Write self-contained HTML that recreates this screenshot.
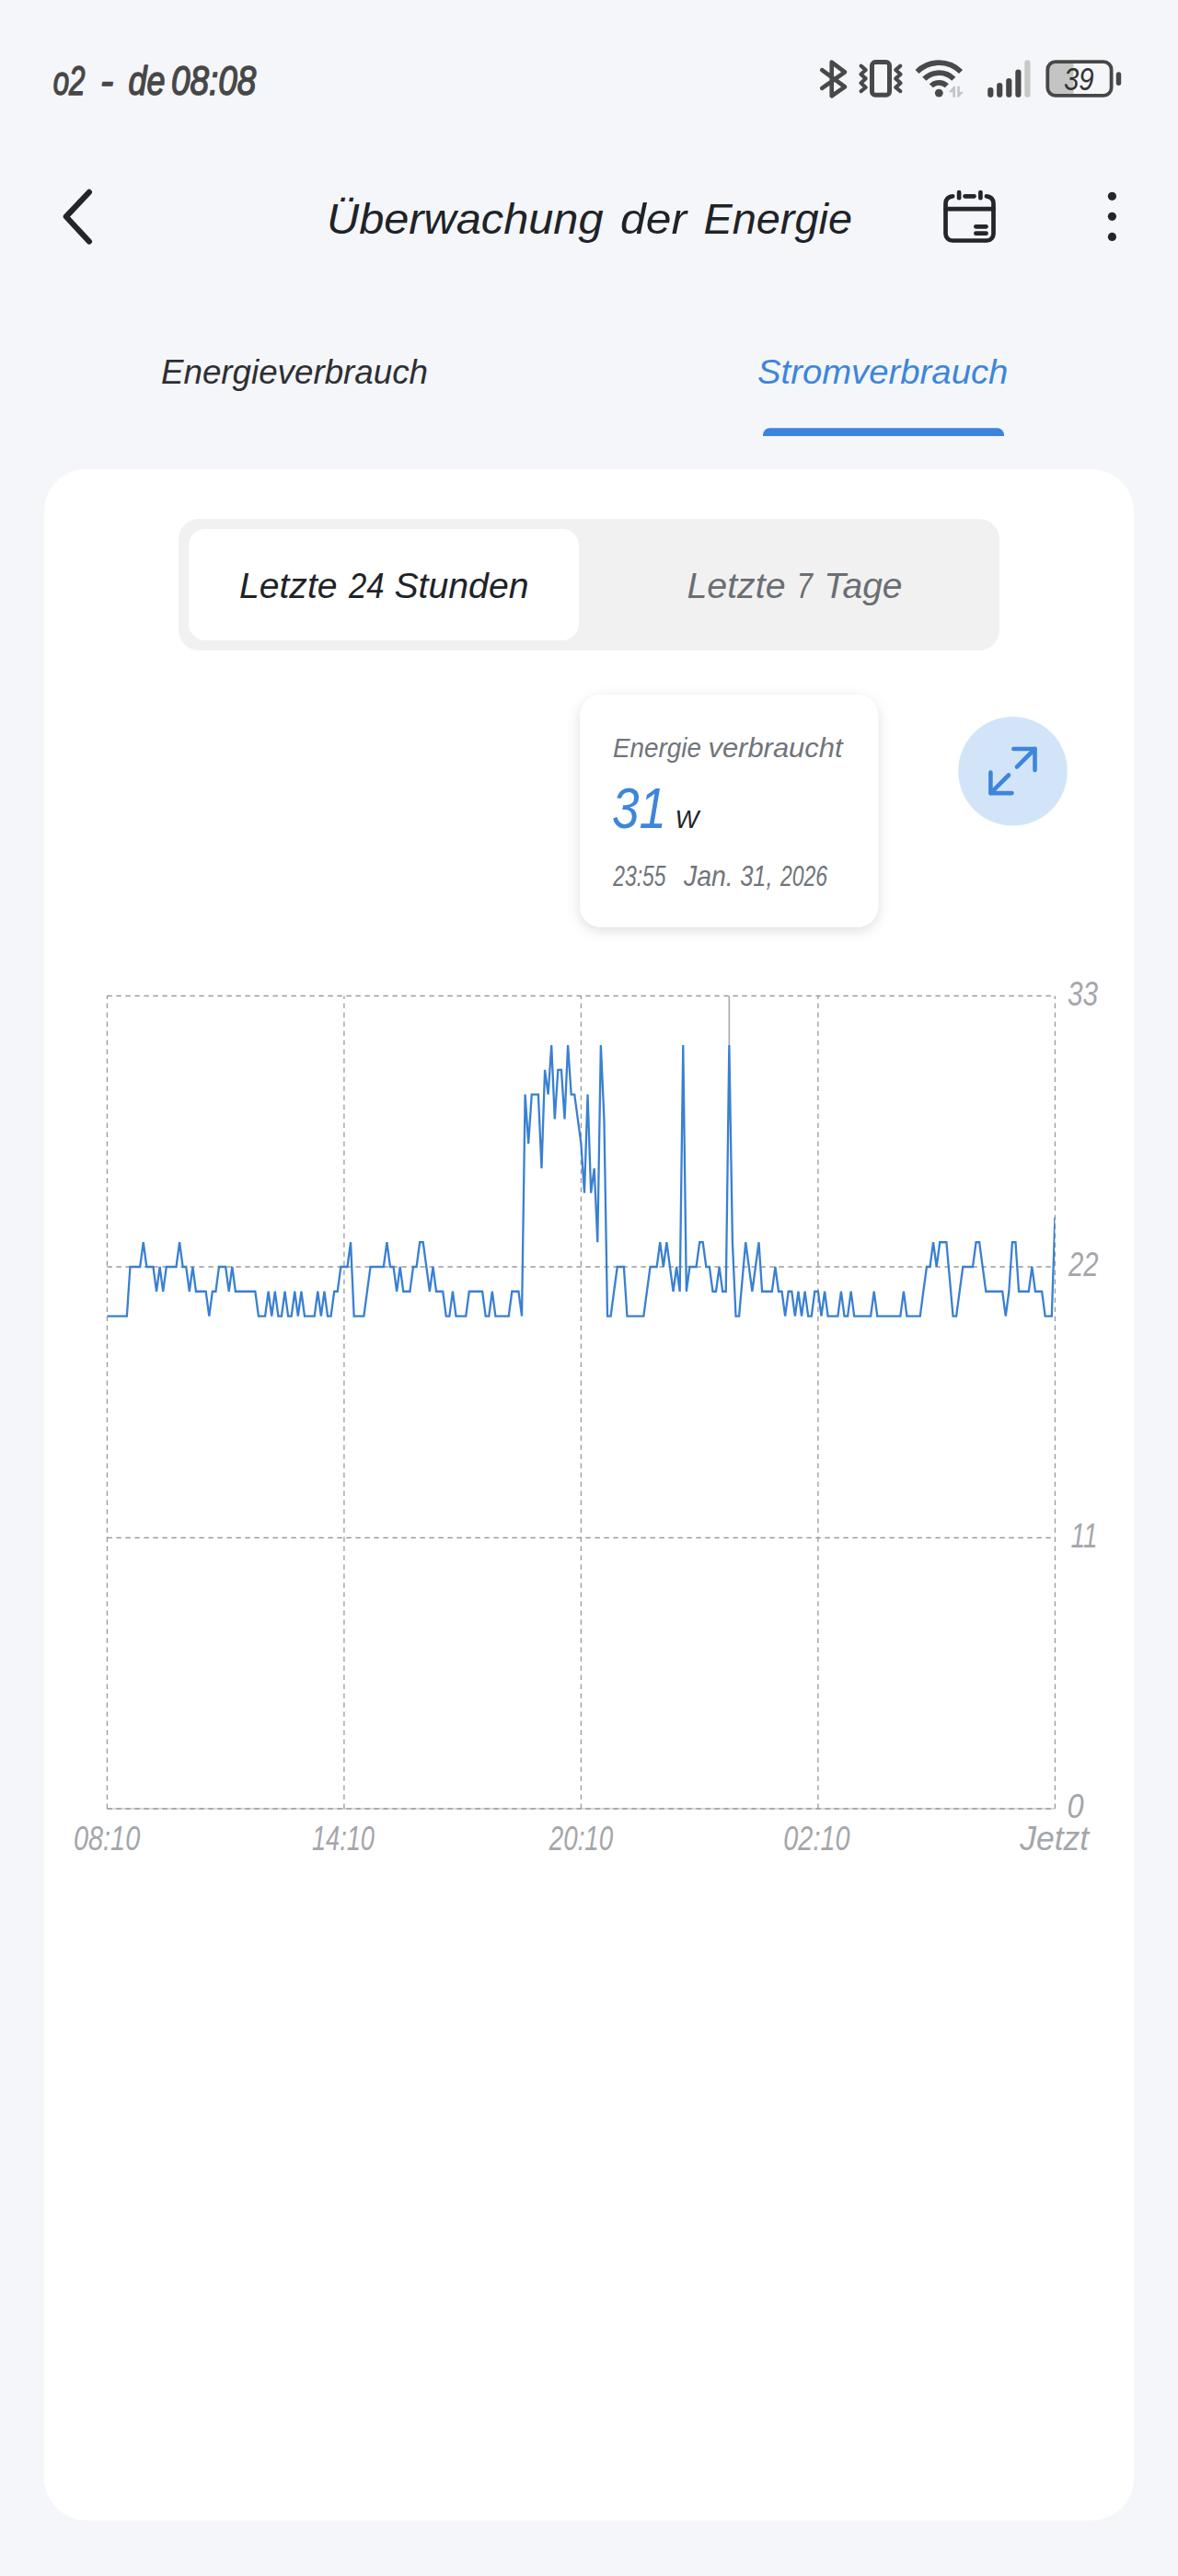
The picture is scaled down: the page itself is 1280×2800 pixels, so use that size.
<!DOCTYPE html>
<html lang="de"><head><meta charset="utf-8"><title>Überwachung der Energie</title>
<style>
html,body{margin:0;padding:0;background:#f5f6fa;}
body{width:1280px;height:2800px;overflow:hidden;}
svg{display:block;}
text{font-family:"Liberation Sans",Arial,sans-serif;font-style:italic;}
</style></head>
<body>
<svg width="1280" height="2800" viewBox="0 0 1280 2800">
<defs>
<clipPath id="plotclip"><rect x="116.4" y="1000" width="1030" height="1000"/></clipPath>
<filter id="sh" x="-20%" y="-20%" width="140%" height="150%">
<feDropShadow dx="0" dy="4" stdDeviation="7" flood-color="#000000" flood-opacity="0.13"/>
</filter>
</defs>

<rect x="0" y="0" width="1280" height="2800" fill="#f5f6fa"/>
<rect x="48" y="510" width="1184" height="2229.5" rx="46" fill="#ffffff"/>
<rect x="194" y="564" width="892" height="143" rx="22" fill="#f1f1f1"/>
<rect x="205" y="575" width="424" height="121" rx="18" fill="#ffffff"/>
<path d="M829,474 V472.7 a7.5,7.5 0 0 1 7.5,-7.5 H1083.5 a7.5,7.5 0 0 1 7.5,7.5 V474 Z" fill="#3a85db"/>

<g fill="none" stroke="#48494a" stroke-width="4.6" stroke-linecap="round" stroke-linejoin="round">
  <!-- bluetooth -->
  <path d="M893.2,76.2 L918,94.4 L903.7,104.3 L903.7,67.6 L918,78.3 L893.2,95.8"/>
  <!-- vibrate -->
  <rect x="947.5" y="67.6" width="19" height="35.7" rx="3.6" stroke-width="5"/>
  <path d="M935.6,71.6 L940.7,76 L935.4,80.7 L940.7,85.4 L935.4,90.2 L940.7,95 L935.6,99.1" stroke-width="4.1"/>
  <path d="M978.3,71.6 L973.2,76 L978.6,80.7 L973.2,85.4 L978.6,90.2 L973.2,95 L978.3,99.1" stroke-width="4.1"/>
</g>
<g fill="none" stroke="#48494a" stroke-width="5.8" stroke-linecap="butt">
  <!-- wifi arcs -->
  <path d="M996.54,78.04 A33.6,33.6 0 0 1 1044.06,78.04"/>
  <path d="M1004.32,85.82 A22.6,22.6 0 0 1 1036.28,85.82"/>
  <path d="M1011.81,93.31 A12,12 0 0 1 1028.79,93.31"/>
</g>
<circle cx="1020.3" cy="101.1" r="4.45" fill="#48494a"/>
<g fill="#c4c4c6">
  <path d="M1031,100.2 L1036.2,93.8 L1038,93.8 L1038,105.8 L1035.4,105.8 L1035.4,100.2 Z"/>
  <path d="M1040.2,93.8 L1042.8,93.8 L1042.8,100 L1046.8,100 L1041.6,105.8 L1040.2,105.8 Z"/>
</g>
<!-- signal -->
<g stroke-linecap="round" stroke-width="6.2">
  <line x1="1076.3" y1="98" x2="1076.3" y2="102.7" stroke="#474747"/>
  <line x1="1086.2" y1="93" x2="1086.2" y2="102.7" stroke="#474747"/>
  <line x1="1096.3" y1="88" x2="1096.3" y2="102.7" stroke="#474747"/>
  <line x1="1106.4" y1="78.7" x2="1106.4" y2="102.7" stroke="#474747"/>
  <line x1="1116.4" y1="68.4" x2="1116.4" y2="102.7" stroke="#c8c8c8"/>
</g>
<!-- battery -->
<path d="M1142,69 h24.5 v33 h-24.5 a4.5,4.5 0 0 1 -4.5 -4.5 v-24 a4.5,4.5 0 0 1 4.5 -4.5 z" fill="#c4c4c4"/>
<rect x="1138.3" y="67.2" width="69.3" height="36.7" rx="8.5" fill="none" stroke="#474747" stroke-width="3.8"/>
<rect x="1212.8" y="78.3" width="5.4" height="14.6" rx="2.7" fill="#474747"/>

<path d="M96.9,208.9 L71.8,235.5 L96.9,262.5" fill="none" stroke="#22262a" stroke-width="6.2" stroke-linecap="round" stroke-linejoin="round"/>
<g fill="none" stroke="#22262a" stroke-width="4.7" stroke-linecap="round">
  <path d="M1035.2,213.3 H1035 a7.5,7.5 0 0 0 -7.5,7.5 V254 a7.5,7.5 0 0 0 7.5,7.5 H1072 a7.5,7.5 0 0 0 7.5,-7.5 V220.8 a7.5,7.5 0 0 0 -7.5,-7.5 H1071.9"/>
  <line x1="1048.6" y1="213.3" x2="1058.5" y2="213.3"/>
  <line x1="1042.1" y1="209.1" x2="1042.1" y2="215.2"/>
  <line x1="1065.4" y1="209.1" x2="1065.4" y2="215.2"/>
  <line x1="1027.6" y1="227.1" x2="1079.4" y2="227.1"/>
  <line x1="1060.4" y1="246.3" x2="1071.5" y2="246.3"/>
  <line x1="1060.4" y1="253.7" x2="1071.5" y2="253.7"/>
</g>
<g fill="#22262a">
  <circle cx="1208.4" cy="213.3" r="4.6"/>
  <circle cx="1208.4" cy="235.3" r="4.6"/>
  <circle cx="1208.4" cy="257.4" r="4.6"/>
</g>

<line x1="116.40" y1="1966.00" x2="1146.40" y2="1966.00" stroke="#cfcfcf" stroke-width="1.6"/>
<g stroke="#9a9a9a" stroke-width="1.3" stroke-dasharray="5.4 4.6" fill="none">
<line x1="116.40" y1="1966.00" x2="116.40" y2="1082.50"/>
<line x1="373.90" y1="1966.00" x2="373.90" y2="1082.50"/>
<line x1="631.40" y1="1966.00" x2="631.40" y2="1082.50"/>
<line x1="888.90" y1="1966.00" x2="888.90" y2="1082.50"/>
<line x1="1146.40" y1="1966.00" x2="1146.40" y2="1082.50"/>
<line x1="116.40" y1="1082.50" x2="1146.40" y2="1082.50"/>
<line x1="116.40" y1="1377.00" x2="1146.40" y2="1377.00"/>
<line x1="116.40" y1="1671.50" x2="1146.40" y2="1671.50"/>
<line x1="116.40" y1="1966.00" x2="1146.40" y2="1966.00"/>
</g>
<line x1="792.34" y1="1082.50" x2="792.34" y2="1136.05" stroke="#a8a8a8" stroke-width="1.6"/>
<polyline clip-path="url(#plotclip)" points="116.40,1430.55 119.98,1430.55 123.55,1430.55 127.13,1430.55 130.71,1430.55 134.28,1430.55 137.86,1430.55 141.43,1377.00 145.01,1377.00 148.59,1377.00 152.16,1377.00 155.74,1350.23 159.32,1377.00 162.89,1377.00 166.47,1377.00 170.05,1403.77 173.62,1377.00 177.20,1403.77 180.78,1377.00 184.35,1377.00 187.93,1377.00 191.50,1377.00 195.08,1350.23 198.66,1377.00 202.23,1377.00 205.81,1403.77 209.39,1377.00 212.96,1403.77 216.54,1403.77 220.12,1403.77 223.69,1403.77 227.27,1430.55 230.84,1403.77 234.42,1403.77 238.00,1377.00 241.57,1377.00 245.15,1377.00 248.73,1403.77 252.30,1377.00 255.88,1403.77 259.46,1403.77 263.03,1403.77 266.61,1403.77 270.18,1403.77 273.76,1403.77 277.34,1403.77 280.91,1430.55 284.49,1430.55 288.07,1430.55 291.64,1403.77 295.22,1430.55 298.80,1403.77 302.37,1430.55 305.95,1430.55 309.52,1403.77 313.10,1430.55 316.68,1430.55 320.25,1403.77 323.83,1430.55 327.41,1403.77 330.98,1430.55 334.56,1430.55 338.14,1430.55 341.71,1430.55 345.29,1403.77 348.87,1430.55 352.44,1403.77 356.02,1430.55 359.59,1430.55 363.17,1403.77 366.75,1403.77 370.32,1377.00 373.90,1377.00 377.48,1377.00 381.05,1350.23 384.63,1430.55 388.21,1430.55 391.78,1430.55 395.36,1430.55 398.93,1403.77 402.51,1377.00 406.09,1377.00 409.66,1377.00 413.24,1377.00 416.82,1377.00 420.39,1350.23 423.97,1377.00 427.55,1377.00 431.12,1403.77 434.70,1377.00 438.27,1403.77 441.85,1403.77 445.43,1403.77 449.00,1377.00 452.58,1377.00 456.16,1350.23 459.73,1350.23 463.31,1377.00 466.89,1403.77 470.46,1377.00 474.04,1403.77 477.62,1403.77 481.19,1403.77 484.77,1430.55 488.34,1430.55 491.92,1403.77 495.50,1430.55 499.07,1430.55 502.65,1430.55 506.23,1430.55 509.80,1403.77 513.38,1403.77 516.96,1403.77 520.53,1403.77 524.11,1403.77 527.68,1430.55 531.26,1430.55 534.84,1403.77 538.41,1430.55 541.99,1430.55 545.57,1430.55 549.14,1430.55 552.72,1430.55 556.30,1403.77 559.87,1403.77 563.45,1403.77 567.02,1430.55 570.60,1189.59 574.18,1243.14 577.75,1189.59 581.33,1189.59 584.91,1189.59 588.48,1269.91 592.06,1162.82 595.64,1189.59 599.21,1136.05 602.79,1216.36 606.37,1162.82 609.94,1162.82 613.52,1216.36 617.09,1136.05 620.67,1189.59 624.25,1189.59 627.82,1216.36 631.40,1243.14 634.98,1296.68 638.55,1189.59 642.13,1296.68 645.71,1269.91 649.28,1350.23 652.86,1136.05 656.43,1216.36 660.01,1430.55 663.59,1430.55 667.16,1403.77 670.74,1377.00 674.32,1377.00 677.89,1377.00 681.47,1430.55 685.05,1430.55 688.62,1430.55 692.20,1430.55 695.77,1430.55 699.35,1430.55 702.93,1403.77 706.50,1377.00 710.08,1377.00 713.66,1377.00 717.23,1350.23 720.81,1377.00 724.39,1350.23 727.96,1377.00 731.54,1403.77 735.12,1377.00 738.69,1403.77 742.27,1136.05 745.84,1403.77 749.42,1377.00 753.00,1377.00 756.57,1377.00 760.15,1350.23 763.73,1350.23 767.30,1377.00 770.88,1377.00 774.46,1403.77 778.03,1403.77 781.61,1377.00 785.18,1403.77 788.76,1403.77 792.34,1136.05 795.91,1350.23 799.49,1430.55 803.07,1430.55 806.64,1390.39 810.22,1350.23 813.80,1377.00 817.37,1403.77 820.95,1377.00 824.52,1350.23 828.10,1403.77 831.68,1403.77 835.25,1403.77 838.83,1403.77 842.41,1377.00 845.98,1403.77 849.56,1403.77 853.14,1430.55 856.71,1403.77 860.29,1403.77 863.87,1430.55 867.44,1403.77 871.02,1430.55 874.59,1403.77 878.17,1430.55 881.75,1430.55 885.32,1403.77 888.90,1403.77 892.48,1430.55 896.05,1403.77 899.63,1430.55 903.21,1430.55 906.78,1430.55 910.36,1430.55 913.93,1403.77 917.51,1430.55 921.09,1430.55 924.66,1403.77 928.24,1430.55 931.82,1430.55 935.39,1430.55 938.97,1430.55 942.55,1430.55 946.12,1430.55 949.70,1403.77 953.27,1430.55 956.85,1430.55 960.43,1430.55 964.00,1430.55 967.58,1430.55 971.16,1430.55 974.73,1430.55 978.31,1430.55 981.89,1403.77 985.46,1430.55 989.04,1430.55 992.62,1430.55 996.19,1430.55 999.77,1430.55 1003.34,1403.77 1006.92,1377.00 1010.50,1377.00 1014.07,1350.23 1017.65,1377.00 1021.23,1350.23 1024.80,1350.23 1028.38,1350.23 1031.96,1390.39 1035.53,1430.55 1039.11,1430.55 1042.68,1403.77 1046.26,1377.00 1049.84,1377.00 1053.41,1377.00 1056.99,1377.00 1060.57,1350.23 1064.14,1350.23 1067.72,1377.00 1071.30,1403.77 1074.87,1403.77 1078.45,1403.77 1082.03,1403.77 1085.60,1403.77 1089.18,1403.77 1092.75,1430.55 1096.33,1403.77 1099.91,1350.23 1103.48,1350.23 1107.06,1403.77 1110.64,1403.77 1114.21,1403.77 1117.79,1403.77 1121.37,1377.00 1124.94,1403.77 1128.52,1403.77 1132.09,1403.77 1135.67,1430.55 1139.25,1430.55 1142.82,1430.55 1146.40,1323.45" fill="none" stroke="#3a80d2" stroke-width="2.3" stroke-linejoin="miter" stroke-miterlimit="4"/>

<rect x="630.1" y="755" width="324.1" height="252.8" rx="23" fill="#ffffff" filter="url(#sh)"/>

<circle cx="1100.5" cy="838.3" r="59.3" fill="#d2e5f8"/>
<g fill="none" stroke="#3d86da" stroke-width="4.6" stroke-linecap="round" stroke-linejoin="round">
  <path d="M1101.3,814 H1124.5 V837.1"/>
  <path d="M1124.5,814 L1104.9,833.6"/>
  <path d="M1099.5,862.1 H1076.4 V839.5"/>
  <path d="M1076.4,862.1 L1096,842.5"/>
</g>
<text id="status1" x="57.67" y="102.80" font-size="45" textLength="34.86" lengthAdjust="spacingAndGlyphs" fill="#474747" font-weight="normal" stroke="#474747" stroke-width="1.5" stroke-linejoin="round">o2</text>
<text id="status1b" x="108.90" y="102.80" font-size="45" textLength="14.26" lengthAdjust="spacingAndGlyphs" fill="#474747" font-weight="normal" stroke="#474747" stroke-width="1.5" stroke-linejoin="round">-</text>
<text id="status1c" x="139.53" y="102.80" font-size="45" textLength="39.89" lengthAdjust="spacingAndGlyphs" fill="#474747" font-weight="normal" stroke="#474747" stroke-width="1.5" stroke-linejoin="round">de</text>
<text id="status2" x="185.96" y="102.80" font-size="45" textLength="92.25" lengthAdjust="spacingAndGlyphs" fill="#474747" font-weight="normal" stroke="#474747" stroke-width="1.5" stroke-linejoin="round">08:08</text>
<text id="title" x="354.96" y="253.90" font-size="47" textLength="300.54" lengthAdjust="spacingAndGlyphs" fill="#1e2328" font-weight="normal">Überwachung</text>
<text id="title2" x="673.98" y="253.90" font-size="47" textLength="72.02" lengthAdjust="spacingAndGlyphs" fill="#1e2328" font-weight="normal">der</text>
<text id="title3" x="764.48" y="253.90" font-size="47" textLength="161.54" lengthAdjust="spacingAndGlyphs" fill="#1e2328" font-weight="normal">Energie</text>
<text id="tab1" x="174.99" y="416.70" font-size="36" textLength="290.01" lengthAdjust="spacingAndGlyphs" fill="#2d2f31" font-weight="normal">Energieverbrauch</text>
<text id="tab2" x="822.96" y="417.00" font-size="36" textLength="272.43" lengthAdjust="spacingAndGlyphs" fill="#3d86da" font-weight="normal">Stromverbrauch</text>
<text id="seg1" x="259.98" y="649.80" font-size="38" textLength="106.55" lengthAdjust="spacingAndGlyphs" fill="#1e2328" font-weight="normal">Letzte</text>
<text id="seg1b" x="379.00" y="649.80" font-size="38" textLength="38.52" lengthAdjust="spacingAndGlyphs" fill="#1e2328" font-weight="normal">24</text>
<text id="seg1c" x="428.47" y="649.80" font-size="38" textLength="146.02" lengthAdjust="spacingAndGlyphs" fill="#1e2328" font-weight="normal">Stunden</text>
<text id="seg2" x="746.47" y="650.40" font-size="38" textLength="107.08" lengthAdjust="spacingAndGlyphs" fill="#6a6e72" font-weight="normal">Letzte</text>
<text id="seg2b" x="865.74" y="650.40" font-size="38" textLength="17.18" lengthAdjust="spacingAndGlyphs" fill="#6a6e72" font-weight="normal">7</text>
<text id="seg2c" x="895.29" y="650.40" font-size="38" textLength="85.27" lengthAdjust="spacingAndGlyphs" fill="#6a6e72" font-weight="normal">Tage</text>
<text id="tt1" x="665.99" y="823.10" font-size="30" textLength="96.05" lengthAdjust="spacingAndGlyphs" fill="#70757a" font-weight="normal">Energie</text>
<text id="tt1b" x="769.48" y="823.10" font-size="30" textLength="146.02" lengthAdjust="spacingAndGlyphs" fill="#70757a" font-weight="normal">verbraucht</text>
<text id="tt2" x="665.09" y="900.20" font-size="63" textLength="59.01" lengthAdjust="spacingAndGlyphs" fill="#3d86da" font-weight="normal">31</text>
<text id="tt3" x="733.60" y="900.20" font-size="28" textLength="25.80" lengthAdjust="spacingAndGlyphs" fill="#1e2328" font-weight="normal">W</text>
<text id="tt4" x="666.21" y="962.80" font-size="32" textLength="57.21" lengthAdjust="spacingAndGlyphs" fill="#70757a" font-weight="normal">23:55</text>
<text id="tt5" x="742.94" y="962.80" font-size="32" textLength="53.83" lengthAdjust="spacingAndGlyphs" fill="#70757a" font-weight="normal">Jan.</text>
<text id="tt5b" x="804.14" y="962.80" font-size="32" textLength="35.36" lengthAdjust="spacingAndGlyphs" fill="#70757a" font-weight="normal">31,</text>
<text id="tt5c" x="848.00" y="962.80" font-size="32" textLength="51.00" lengthAdjust="spacingAndGlyphs" fill="#70757a" font-weight="normal">2026</text>
<text id="y33" x="1159.97" y="1092.60" font-size="36" textLength="33.03" lengthAdjust="spacingAndGlyphs" fill="#a4a6aa" font-weight="normal">33</text>
<text id="y22" x="1161.00" y="1386.70" font-size="36" textLength="32.45" lengthAdjust="spacingAndGlyphs" fill="#a4a6aa" font-weight="normal">22</text>
<text id="y11" x="1163.46" y="1681.60" font-size="36" textLength="29.23" lengthAdjust="spacingAndGlyphs" fill="#a4a6aa" font-weight="normal">11</text>
<text id="y0" x="1159.54" y="1975.70" font-size="36" textLength="18.14" lengthAdjust="spacingAndGlyphs" fill="#a4a6aa" font-weight="normal">0</text>
<text id="x1" x="79.94" y="2010.50" font-size="36" textLength="72.25" lengthAdjust="spacingAndGlyphs" fill="#a4a6aa" font-weight="normal">08:10</text>
<text id="x2" x="338.98" y="2010.50" font-size="36" textLength="68.02" lengthAdjust="spacingAndGlyphs" fill="#a4a6aa" font-weight="normal">14:10</text>
<text id="x3" x="596.80" y="2010.50" font-size="36" textLength="69.40" lengthAdjust="spacingAndGlyphs" fill="#a4a6aa" font-weight="normal">20:10</text>
<text id="x4" x="851.36" y="2010.50" font-size="36" textLength="72.06" lengthAdjust="spacingAndGlyphs" fill="#a4a6aa" font-weight="normal">02:10</text>
<text id="x5" x="1108.20" y="2010.70" font-size="36" textLength="75.06" lengthAdjust="spacingAndGlyphs" fill="#a4a6aa" font-weight="normal">Jetzt</text>
<text id="bat" x="1155.93" y="98.20" font-size="35" textLength="32.58" lengthAdjust="spacingAndGlyphs" fill="#333333" font-weight="normal">39</text>
</svg>
</body></html>
